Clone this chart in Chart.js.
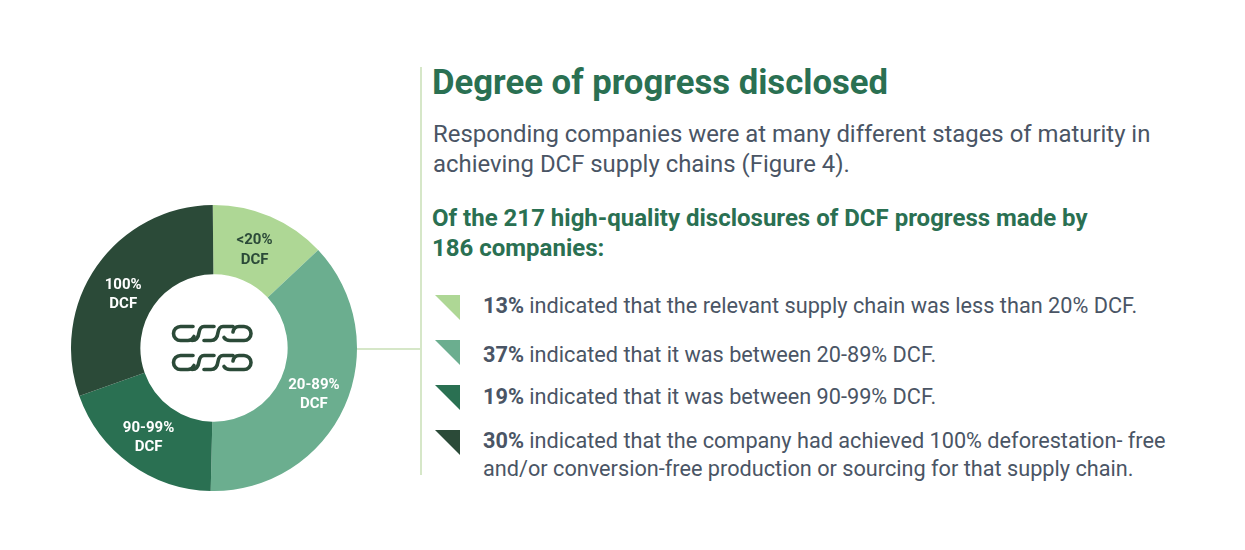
<!DOCTYPE html>
<html>
<head>
<meta charset="utf-8">
<script src="https://cdn.jsdelivr.net/npm/chart.js@4"></script>
<style>
  html, body { margin: 0; padding: 0; background: #fff; }
  #page { position: relative; width: 1245px; height: 550px; overflow: hidden; font-family: Roboto, sans-serif; color: #4a5565; }
  #wrap { position: absolute; left: 64px; top: 198px; width: 300px; height: 300px; }
  .t { position: absolute; white-space: nowrap; }
  .title { left: 432px; top: 62px; font-size: 34.7px; font-weight: 700; color: #2a7052; line-height: 40px; }
  .intro { left: 433px; font-size: 23.9px; line-height: 30px; }
  .sub { left: 432px; font-size: 24px; font-weight: 700; color: #2a7052; line-height: 30px; }
  .item { left: 483px; font-size: 21.7px; line-height: 28px; }
  .item b { font-weight: 700; }
  .rule { position: absolute; background: #d6e7c8; }
  .tri { position: absolute; left: 435px; width: 25px; height: 25px; clip-path: polygon(0 0, 100% 0, 100% 100%); }
  #chain { position: absolute; left: 171px; top: 324px; }
</style>
</head>
<body>
<div id="page">
  <div class="rule" style="left:420px;top:67px;width:2px;height:408px"></div>
  <div class="rule" style="left:356px;top:348px;width:65px;height:1.5px"></div>

  <div id="wrap"><canvas id="donut" width="300" height="300"></canvas></div>

  <svg id="chain" width="86" height="52" viewBox="0 0 86 52" fill="none" stroke="#2b4a38" stroke-width="3.6" stroke-linecap="round">
    <g id="links">
      <path d="M22 2.500 H9.500 a7 7 0 0 0 0 14 H17 q4 0 6 -4"/>
      <path d="M43 2.500 H33 q-4 0 -5 6 q-1 8 -7 8"/>
      <path d="M62 2.500 H52 q-4 0 -5 6 q-1 8 -7 8 H33"/>
      <path d="M62 8 q1 -5.500 6 -5.500 H73 a7 7 0 0 1 0 14 H59 q-4 0 -6 -3"/>
    </g>
    <use href="#links" y="29"/>
  </svg>

  <div class="t title">Degree of progress disclosed</div>
  <div class="t intro" style="top:119px">Responding companies were at many different stages of maturity in</div>
  <div class="t intro" style="top:149px">achieving DCF supply chains (Figure 4).</div>
  <div class="t sub" style="top:203px">Of the 217 high-quality disclosures of DCF progress made by</div>
  <div class="t sub" style="top:233px">186 companies:</div>

  <div class="tri" style="top:295px;background:#aed795"></div>
  <div class="tri" style="top:340px;background:#6bae8f"></div>
  <div class="tri" style="top:385px;background:#2a7052"></div>
  <div class="tri" style="top:430px;background:#2b4a38"></div>

  <div class="t item" style="top:292px"><b>13%</b> indicated that the relevant supply chain was less than 20% DCF.</div>
  <div class="t item" style="top:341px"><b>37%</b> indicated that it was between 20-89% DCF.</div>
  <div class="t item" style="top:383px"><b>19%</b> indicated that it was between 90-99% DCF.</div>
  <div class="t item" style="top:427px"><b>30%</b> indicated that the company had achieved 100% deforestation- free</div>
  <div class="t item" style="top:455px">and/or conversion-free production or sourcing for that supply chain.</div>
</div>

<script>
const categories = ["<20%", "20-89%", "90-99%", "100%"];
const shares = [13, 37, 19, 30];
const sliceColors = ["#aed795", "#6bae8f", "#2a7052", "#2b4a38"];
const labelColors = ["#2b4a38", "#ffffff", "#ffffff", "#ffffff"];

// draws "<20%" / "DCF" on each slice
const sliceLabels = {
  id: "sliceLabels",
  afterDatasetsDraw(chart) {
    const ctx = chart.ctx;
    const nudge = [[-2, 2], [1, 3], [-2, 2], [-2, 9]];
    chart.getDatasetMeta(0).data.forEach((arc, i) => {
      const p = arc.tooltipPosition();
      const x = p.x + nudge[i][0];
      const y = p.y + nudge[i][1];
      ctx.save();
      ctx.font = "700 15px Roboto";
      ctx.fillStyle = labelColors[i];
      ctx.textAlign = "center";
      ctx.textBaseline = "middle";
      ctx.fillText(categories[i], x, y - 10);
      ctx.fillText("DCF", x, y + 9.5);
      ctx.restore();
    });
  }
};

new Chart(document.getElementById("donut"), {
  type: "doughnut",
  data: {
    labels: categories,
    datasets: [{
      data: shares,
      backgroundColor: sliceColors,
      borderWidth: 0
    }]
  },
  options: {
    responsive: false,
    animation: false,
    cutout: "51.5%",
    radius: 143,
    rotation: -0.5,
    layout: { padding: 0 },
    plugins: { legend: { display: false }, tooltip: { enabled: false } }
  },
  plugins: [sliceLabels]
});
</script>
</body>
</html>
